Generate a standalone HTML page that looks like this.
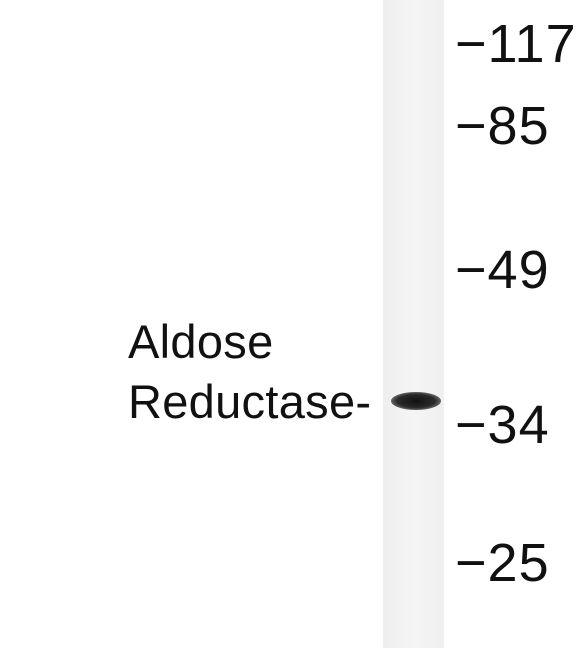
<!DOCTYPE html>
<html><head><meta charset="utf-8"><style>
html,body{margin:0;padding:0;background:#fff;}
#c{position:relative;width:585px;height:648px;overflow:hidden;font-family:"Liberation Sans",sans-serif;color:#111;}
.t{position:absolute;white-space:nowrap;line-height:1;font-family:"Liberation Sans",sans-serif;color:#111;}
</style></head><body>
<div id="c">
<svg width="585" height="648" style="position:absolute;left:0;top:0">
<defs>
<radialGradient id="bg" cx="50%" cy="50%" r="50%">
<stop offset="0" stop-color="#111"/><stop offset="0.75" stop-color="#2a2a2a"/><stop offset="1" stop-color="#666"/>
</radialGradient>
<linearGradient id="lg" x1="0" x2="1"><stop offset="0" stop-color="#eeeeee"/><stop offset="0.5" stop-color="#f5f5f5"/><stop offset="1" stop-color="#efefef"/></linearGradient>
</defs>
<rect x="383" y="0" width="61" height="648" fill="url(#lg)"/>
<ellipse cx="416" cy="401" rx="25" ry="9" fill="url(#bg)"/>
</svg>
<div class="t" style="left:128px;top:318px;font-size:47px;letter-spacing:0.3px;">Aldose</div>
<div class="t" style="left:128px;top:378px;font-size:47px;letter-spacing:0.3px;">Reductase-</div>
</div>
<script>
const markerLabels=["117","85","49","34","25"];
const markerBaselines=[64,146,290,445,583];
const c=document.getElementById('c');
markerLabels.forEach((m,i)=>{
  const d=document.createElement('div');
  d.className='t';
  
  
  d.style.left='455px';
  d.style.fontSize='54px';
  d.style.letterSpacing='1px';
  d.style.top=(markerBaselines[i]-0.905*54+2)+'px';
  d.textContent='\u2212'+m;
  c.appendChild(d);
});
</script>
</body></html>
